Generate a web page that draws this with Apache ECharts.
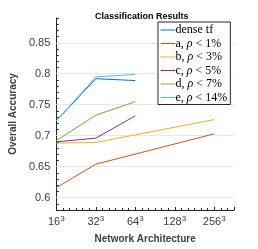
<!DOCTYPE html>
<html><head><meta charset="utf-8">
<script src="https://cdn.jsdelivr.net/npm/echarts@6/dist/echarts.min.js"></script>
<style>html,body{margin:0;padding:0;background:#fff}#c{width:258px;height:249px}</style>
</head><body><div id="c"></div>
<script>
const sizes = [16, 32, 64, 128, 256];
const tickBases = ['16', '32', '64', '128', '256'];
const tickExp = '3';
const yTicks = [0.6, 0.65, 0.7, 0.75, 0.8, 0.85];
const seriesNames = ['dense tf', 'a, ρ < 1%', 'b, ρ < 3%', 'c, ρ < 5%', 'd, ρ < 7%', 'e, ρ < 14%'];
const denseSizes = [16, 32, 64];
const denseTf = [0.724, 0.792, 0.789];
const aSizes = [16, 32, 256];
const aVals = [0.616, 0.654, 0.703];
const bSizes = [16, 32, 256];
const bVals = [0.688, 0.689, 0.726];
const cSizes = [16, 32, 64];
const cVals = [0.690, 0.696, 0.732];
const dSizes = [16, 32, 64];
const dVals = [0.692, 0.733, 0.755];
const eSizes = [16, 32, 64];
const eVals = [0.724, 0.795, 0.799];
const colors = ['#0072BD', '#D95319', '#EDB120', '#7E2F8E', '#77AC30', '#4DBEEE'];

const pos = s => Math.log2(s / sizes[0]);
const pairs = (xs, ys) => xs.map((x, i) => [pos(x), ys[i]]);
const allData = [
  pairs(denseSizes, denseTf), pairs(aSizes, aVals), pairs(bSizes, bVals),
  pairs(cSizes, cVals), pairs(dSizes, dVals), pairs(eSizes, eVals)
];
const axisCol = '#262626';
const lblCol = '#404040';
const chart = echarts.init(document.getElementById('c'), null, {renderer: 'canvas'});
const series = [{
  name: '_grid', type: 'line', data: [], silent: true, z: 1,
  markLine: {silent: true, z: 1, symbol: 'none', label: {show: false}, animation: false,
    lineStyle: {color: '#e8e8e8', width: 1, type: 'solid'},
    data: yTicks.map(v => ({yAxis: v}))}
}].concat(seriesNames.map((n, i) => ({
  name: n, type: 'line', data: allData[i], symbol: 'none',
  lineStyle: {width: 1, color: colors[i]}, itemStyle: {color: colors[i]}
})));
chart.setOption({
  animation: false,
  title: {
    text: 'Classification Results', left: 90, top: 7,
    textStyle: {fontFamily: 'Liberation Sans', fontSize: 9, fontWeight: 'bold', color: '#000'}
  },
  grid: {left: 40, right: 24, top: 18, bottom: 35},
  legend: {
    left: 158, top: 22, orient: 'vertical',
    data: seriesNames.map((n, i) => ({
      name: n,
      itemStyle: {opacity: 0},
      lineStyle: {color: colors[i], width: 1, opacity: 1}
    })),
    backgroundColor: '#fff', borderColor: '#262626', borderWidth: 1,
    padding: [2, 3, 1, 2], itemGap: 1.5, itemWidth: 15, itemHeight: 12,
    formatter: n => n.replace('ρ', '{i|ρ}'),
    textStyle: {fontFamily: 'Liberation Serif', fontSize: 12, lineHeight: 12, color: '#000', padding: [0, 0, 0, -5],
      rich: {i: {fontFamily: 'Liberation Serif', fontStyle: 'italic', fontSize: 12, lineHeight: 12, color: '#000'}}}
  },
  xAxis: {
    type: 'value', min: 0, max: 4.5, interval: 1,
    name: 'Network Architecture', nameLocation: 'middle', nameGap: 24,
    nameTextStyle: {fontFamily: 'Liberation Sans', fontSize: 10, fontWeight: 'bold', color: lblCol},
    axisLine: {lineStyle: {color: axisCol, width: 1}},
    axisTick: {inside: true, length: 3, lineStyle: {color: axisCol}},
    minorTick: {show: true, splitNumber: 6, length: 2, lineStyle: {color: axisCol}},
    axisLabel: {showMaxLabel: false, color: lblCol, margin: 5,
      formatter: v => (Number.isInteger(v) && tickBases[v]) ? '{b|' + tickBases[v] + '}{s|' + tickExp + '}' : '',
      rich: {
        b: {fontFamily: 'Liberation Sans', fontSize: 11, color: lblCol},
        s: {fontFamily: 'Liberation Sans', fontSize: 8, color: lblCol, padding: [0, 0, 6, 0]}
      }},
    splitLine: {show: false}
  },
  yAxis: {
    type: 'value', min: 0.58, max: 0.89, interval: 0.01,
    name: 'Overall Accuracy', nameLocation: 'middle', nameGap: 34,
    nameTextStyle: {fontFamily: 'Liberation Sans', fontSize: 10, fontWeight: 'bold', color: lblCol},
    axisLine: {show: true, lineStyle: {color: axisCol, width: 1}},
    axisTick: {show: true, inside: true, length: 2.5, lineStyle: {color: axisCol}},
    minorTick: {show: false},
    axisLabel: {fontFamily: 'Liberation Sans', fontSize: 11, color: lblCol, margin: 6,
      formatter: v => {
        const k = Math.round(v * 100);
        return k % 5 === 0 ? String(+(k / 100).toFixed(2)) : '';
      }},
    splitLine: {show: false}
  },
  series: series
});
</script></body></html>
